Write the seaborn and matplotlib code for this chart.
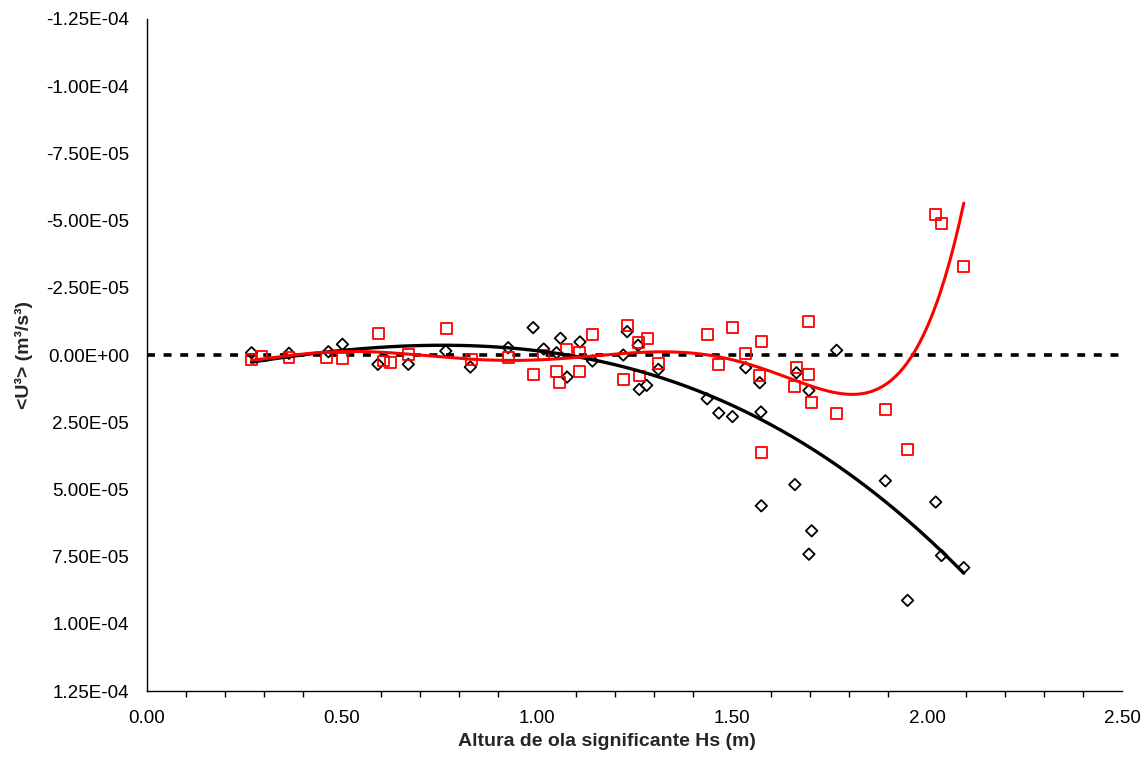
import numpy as np
import pandas as pd
import matplotlib
matplotlib.use("Agg")
import matplotlib.pyplot as plt
from matplotlib.ticker import FixedLocator, MultipleLocator, FuncFormatter
import seaborn as sns

# Significant wave height (m) and <U^3> (m^3/s^3) for the two series
hs_black = [0.268, 0.364, 0.465, 0.501, 0.592, 0.670, 0.766, 0.829, 0.926, 0.990,
            1.017, 1.050, 1.060, 1.077, 1.110, 1.142, 1.221, 1.231, 1.259, 1.262,
            1.281, 1.311, 1.436, 1.466, 1.501, 1.535, 1.571, 1.574, 1.575, 1.661,
            1.665, 1.697, 1.704, 1.697, 1.768, 1.893, 1.950, 2.022, 2.037, 2.094]
u3_black = [-0.86e-6, -0.63e-6, -1.23e-6, -3.99e-6, 3.47e-6, 3.47e-6, -1.49e-6, 4.48e-6,
            -2.72e-6, -10.19e-6, -2.24e-6, -0.86e-6, -6.23e-6, 8.21e-6, -4.85e-6, 2.24e-6,
            0.0, -8.69e-6, -3.62e-6, 12.8e-6, 11.3e-6, 5.34e-6, 16.3e-6, 21.6e-6,
            22.9e-6, 4.74e-6, 10.3e-6, 21.2e-6, 56.1e-6, 48.2e-6, 6.6e-6, 13.2e-6,
            65.4e-6, 74.1e-6, -1.75e-6, 46.8e-6, 91.3e-6, 54.7e-6, 74.6e-6, 79.1e-6]

hs_red = [0.268, 0.293, 0.364, 0.460, 0.500, 0.594, 0.607, 0.625, 0.671, 0.767,
          0.832, 0.927, 0.990, 1.017, 1.051, 1.058, 1.075, 1.110, 1.110, 1.142,
          1.221, 1.233, 1.260, 1.282, 1.262, 1.311, 1.436, 1.466, 1.501, 1.535,
          1.575, 1.571, 1.575, 1.665, 1.661, 1.696, 1.696, 1.704, 1.768, 1.893,
          1.950, 2.022, 2.037, 2.094]
u3_red = [1.6e-6, 0.37e-6, 1.0e-6, 1.0e-6, 1.38e-6, -8.1e-6, 2.24e-6, 2.87e-6, -0.26e-6,
          -9.8e-6, 1.6e-6, 1.0e-6, 7.2e-6, 0.0, 6.2e-6, 10.3e-6, -2.1e-6, -0.86e-6,
          5.97e-6, -7.5e-6, 9.07e-6, -11.1e-6, -4.6e-6, -6.1e-6, 7.8e-6, 3.2e-6,
          -7.7e-6, 3.5e-6, -10.2e-6, -0.5e-6, -4.85e-6, 7.46e-6, 36.1e-6, 4.74e-6,
          11.6e-6, -12.3e-6, 7.2e-6, 17.5e-6, 21.8e-6, 20.3e-6, 35.2e-6, -52.2e-6,
          -48.8e-6, -32.8e-6]

y_ticks = [-1.25e-4, -1.0e-4, -7.5e-5, -5.0e-5, -2.5e-5, 0.0,
           2.5e-5, 5.0e-5, 7.5e-5, 1.0e-4, 1.25e-4]
x_ticks = [0.0, 0.5, 1.0, 1.5, 2.0, 2.5]

df_black = pd.DataFrame({"Hs": hs_black, "U3": u3_black})
df_red = pd.DataFrame({"Hs": hs_red, "U3": u3_red})

# Polynomial trend lines over the range of each series
def trend(df, deg):
    coef = np.polyfit(df["Hs"], df["U3"], deg)
    xs = np.linspace(df["Hs"].min(), df["Hs"].max(), 300)
    return pd.DataFrame({"Hs": xs, "U3": np.polyval(coef, xs)})

trend_black = trend(df_black, 3)
trend_red = trend(df_red, 6)
zero_line = pd.DataFrame({"Hs": [x_ticks[0], x_ticks[-1]], "U3": [0.0, 0.0]})

sns.set_style("white")
plt.rcParams["font.family"] = ["Liberation Sans", "DejaVu Sans"]

fig = plt.figure(figsize=(11.45, 7.78), dpi=100)
ax = fig.add_axes([0.1284, 0.1118, 0.8516, 0.8638])

sns.lineplot(data=zero_line, x="Hs", y="U3", ax=ax, color="black", lw=2.6,
             dashes=False, linestyle=(0, (2.2, 2.4)), zorder=1)
sns.scatterplot(data=df_black, x="Hs", y="U3", ax=ax, marker="D", s=34,
                facecolor="none", edgecolor="black", linewidth=1.3, zorder=3)
sns.scatterplot(data=df_red, x="Hs", y="U3", ax=ax, marker="s", s=62,
                facecolor="none", edgecolor="#FF0000", linewidth=1.3, zorder=3)
sns.lineplot(data=trend_black, x="Hs", y="U3", ax=ax, color="black", lw=2.4,
             sort=False, zorder=4)
sns.lineplot(data=trend_red, x="Hs", y="U3", ax=ax, color="#FF0000", lw=2.2,
             sort=False, zorder=4)

ax.set_xlim(x_ticks[0], x_ticks[-1])
ax.set_ylim(y_ticks[-1], y_ticks[0])  # inverted: negative values at the top

ax.xaxis.set_major_locator(FixedLocator(x_ticks))
ax.xaxis.set_minor_locator(MultipleLocator(0.1))
ax.xaxis.set_major_formatter(FuncFormatter(lambda v, p: f"{v:.2f}"))
ax.yaxis.set_major_locator(FixedLocator(y_ticks))
ax.yaxis.set_major_formatter(
    FuncFormatter(lambda v, p: "0.00E+00" if abs(v) < 1e-12 else f"{v:.2E}"))

for side in ("top", "right"):
    ax.spines[side].set_visible(False)
for side in ("left", "bottom"):
    ax.spines[side].set_color("black")
    ax.spines[side].set_linewidth(1.0)

ax.tick_params(axis="both", which="major", direction="out", length=5, width=1,
               color="black", labelsize=13.6, labelcolor="black")
ax.tick_params(axis="x", which="major", pad=9)
ax.tick_params(axis="y", which="major", pad=8)
ax.tick_params(axis="x", which="minor", direction="out", length=4, width=1,
               color="black", bottom=True)

ax.set_xlabel("Altura de ola significante Hs (m)", fontsize=14, fontweight="bold")
ax.set_ylabel("<U³> (m³/s³)", fontsize=14, fontweight="bold")
ax.xaxis.set_label_coords(0.472, -0.0625)
ax.yaxis.set_label_coords(-0.117, 0.5)

fig.savefig("out.png", dpi=100)
